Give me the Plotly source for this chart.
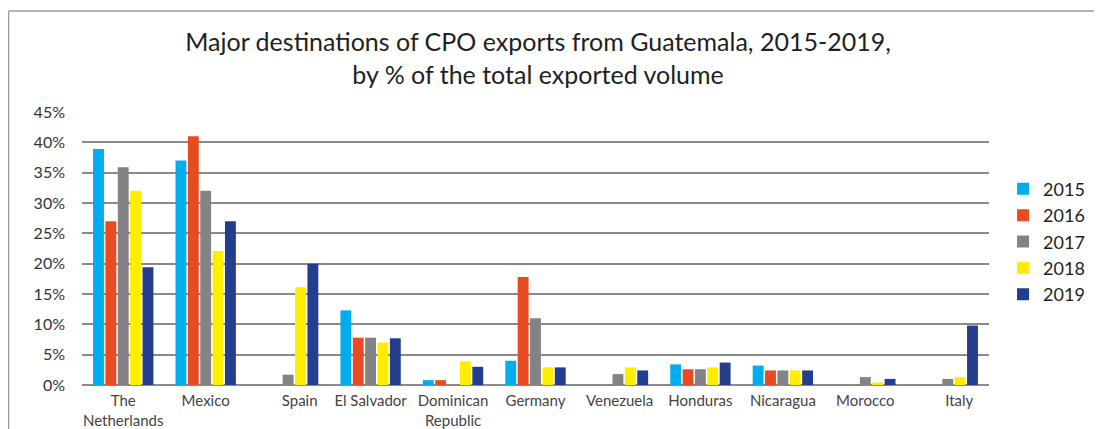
import plotly.graph_objects as go

categories = ["The Netherlands", "Mexico", "Spain", "El Salvador", "Dominican Republic",
              "Germany", "Venezuela", "Honduras", "Nicaragua", "Morocco", "Italy"]
tick_labels = ["The<br>Netherlands", "Mexico", "\u00a0\u00a0\u00a0\u00a0\u00a0\u00a0Spain", "El Salvador",
               "Dominican<br>Republic", "Germany", "\u00a0Venezuela", "Honduras", "Nicaragua",
               "Morocco", "\u00a0\u00a0\u00a0\u00a0\u00a0\u00a0Italy"]
years = ["2015", "2016", "2017", "2018", "2019"]

v2015 = [38.9, 37.0, None, 12.3, 0.8, 4.0, None, 3.4, 3.2, None, None]
v2016 = [27.0, 41.0, None, 7.8, 0.8, 17.8, None, 2.6, 2.4, None, None]
v2017 = [35.9, 32.0, 1.7, 7.8, None, 11.0, 1.8, 2.6, 2.4, 1.3, 1.0]
v2018 = [32.0, 22.1, 16.1, 7.0, 3.9, 2.9, 2.9, 2.9, 2.4, 0.4, 1.3]
v2019 = [19.4, 27.0, 20.0, 7.7, 3.0, 2.9, 2.4, 3.7, 2.4, 1.0, 9.8]

series = [v2015, v2016, v2017, v2018, v2019]
colors = ["#00AEEF", "#E84B22", "#838386", "#FFED00", "#243E8E"]

fig = go.Figure()
for name, vals, col in zip(years, series, colors):
    fig.add_trace(go.Bar(x=categories, y=vals, name=name, marker_color=col,
                         marker_line_width=0))

fig.update_layout(
    width=1094, height=421,
    margin=dict(l=74, r=113, t=103.5, b=43.5, autoexpand=False),
    paper_bgcolor="white", plot_bgcolor="white",
    barmode="group", bargap=0.25, bargroupgap=0.12,
    font=dict(family="Lato", color="#333333"),
    title=dict(text="Major destinations of CPO exports from Guatemala, 2015-2019,<br>by % of the total exported volume",
               x=0.4845, xanchor="center", y=0.897, yanchor="top",
               font=dict(family="Lato", size=25, color="#231F20")),
    legend=dict(x=1.0155, xanchor="left", y=0.5255, yanchor="middle",
                font=dict(size=18, color="#231F20"), itemwidth=30,
                tracegroupgap=0, bgcolor="rgba(0,0,0,0)"),
    showlegend=True,
)
fig.update_xaxes(type="category", tickmode="array", tickvals=categories, ticktext=tick_labels,
                 tickfont=dict(size=15, color="#444444"), showgrid=False, automargin=False,
                 showline=False, ticks="", zeroline=False, ticklabelstandoff=5)
fig.update_yaxes(range=[0, 45], dtick=5, ticksuffix="%", showgrid=True, automargin=False,
                 gridcolor="#8a8a8a", gridwidth=1.5, zeroline=True, zerolinecolor="#8a8a8a",
                 zerolinewidth=1.5, tickfont=dict(size=16, color="#333333"),
                 ticklabelstandoff=16, showline=False)

fig.add_shape(type="line", xref="paper", yref="paper", x0=-0.081, x1=1.2, y0=1.370, y1=1.370,
              line=dict(color="#9a9a9a", width=1.5))
fig.add_shape(type="line", xref="paper", yref="paper", x0=-0.081, x1=-0.081, y0=1.370, y1=-0.2,
              line=dict(color="#9a9a9a", width=1.5))

fig.write_html("out.html")
